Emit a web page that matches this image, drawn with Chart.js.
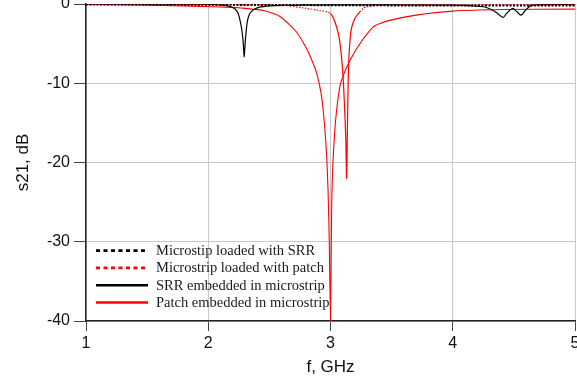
<!DOCTYPE html>
<html>
<head>
<meta charset="utf-8">
<script src="https://cdn.jsdelivr.net/npm/chart.js@4/dist/chart.umd.min.js"></script>
<style>
  html, body { margin: 0; padding: 0; background: #fff; }
  #wrap { width: 577px; height: 381px; }
</style>
</head>
<body>
<div id="wrap"><canvas id="c" width="577" height="381"></canvas></div>
<script>
// ---- data ----
const seriesNames = [
  "Microstip loaded with SRR",
  "Microstrip loaded with patch",
  "SRR embedded in microstrip",
  "Patch embedded in microstrip"
];
const xTicks = [1, 2, 3, 4, 5];
const yTicks = [0, -10, -20, -30, -40];

// Microstip loaded with SRR (dotted black)
const srrLoadedF  = [1, 2, 3, 4, 5];
const srrLoadedDb = [-0.05, -0.1, -0.15, -0.2, -0.2];

// Microstrip loaded with patch (dotted red)
const patchLoadedF  = [1, 2, 2.59, 2.8, 2.9, 3.0, 3.05, 3.077, 3.1, 3.115, 3.125, 3.132, 3.138, 3.145, 3.153, 3.17, 3.2, 3.24, 3.27, 3.3, 3.4, 4, 5];
const patchLoadedDb = [-0.05, -0.08, -0.13, -0.55, -0.8, -1.2, -2.9, -4.9, -8.5, -13, -17, -22, -16, -9.5, -6, -3.2, -1.8, -1.0, -0.5, -0.35, -0.15, -0.1, -0.1];

// SRR embedded in microstrip (solid black)
const srrEmbF  = [1, 2.0, 2.15, 2.2, 2.226, 2.245, 2.259, 2.272, 2.284, 2.29, 2.294, 2.298, 2.304, 2.313, 2.322, 2.34, 2.368, 2.42, 2.55, 3.0, 4.0, 4.25, 4.3, 4.36, 4.41, 4.44, 4.49, 4.52, 4.56, 4.6, 4.65, 5];
const srrEmbDb = [0, -0.05, -0.2, -0.45, -0.75, -1.2, -2.0, -3.0, -4.5, -5.8, -6.7, -5.8, -4.5, -3.0, -2.0, -1.2, -0.75, -0.4, -0.2, -0.1, -0.15, -0.35, -0.6, -1.1, -1.7, -1.2, -0.55, -0.9, -1.4, -0.7, -0.15, -0.05];

// Patch embedded in microstrip (solid red)
const patchEmbF  = [1, 1.5, 1.93, 2.14, 2.3, 2.46, 2.59, 2.72, 2.8, 2.85, 2.886, 2.92, 2.94, 2.96, 2.97, 2.98, 2.99, 3.0, 3.01, 3.02, 3.035, 3.05, 3.077, 3.1, 3.16, 3.25, 3.35, 3.4, 3.5, 3.7, 4.0, 4.4, 5];
const patchEmbDb = [-0.05, -0.15, -0.3, -0.4, -0.55, -0.85, -1.6, -3.5, -5.5, -7.2, -8.7, -11, -13.4, -17, -19.7, -23.5, -30, -40, -25, -20, -16, -13.4, -10.4, -9.2, -7.1, -4.8, -2.9, -2.5, -2.0, -1.4, -0.9, -0.7, -0.65];

function pts(xs, ys) { return xs.map((x, i) => ({ x: x, y: ys[i] })); }

const nearZero = ctx => (ctx.p0.parsed.y > -1.5 && ctx.p1.parsed.y > -1.5) ? [1.5, 1.5] : undefined;

const legendStyles = [
  { color: '#000', dash: [4, 3.5], width: 2.8 },
  { color: '#ff0000', dash: [4, 3.5], width: 2.8 },
  { color: '#000', dash: [], width: 2.4 },
  { color: '#ff0000', dash: [], width: 2.4 }
];

const legendPlugin = {
  id: 'customLegend',
  afterDraw(chart) {
    const ctx = chart.ctx;
    ctx.save();
    const rowsY = [250.7, 267.9, 285.2, 302.5];
    ctx.font = '14.5px "Liberation Serif", "Times New Roman", serif';
    ctx.textBaseline = 'middle';
    ctx.textAlign = 'left';
    seriesNames.forEach((name, i) => {
      const s = legendStyles[i];
      ctx.beginPath();
      ctx.setLineDash(s.dash);
      ctx.lineWidth = s.width;
      ctx.strokeStyle = s.color;
      ctx.moveTo(96, rowsY[i]);
      ctx.lineTo(148, rowsY[i]);
      ctx.stroke();
      ctx.setLineDash([]);
      ctx.fillStyle = '#1a1a1a';
      ctx.fillText(name, 156, rowsY[i] + 0.5);
    });
    ctx.restore();
  }
};

const titleFont = { family: 'Liberation Sans, Arial, sans-serif', size: 17 };
const tickFont = { family: 'Liberation Sans, Arial, sans-serif', size: 16 };

new Chart(document.getElementById('c'), {
  type: 'line',
  data: {
    datasets: [
      { label: seriesNames[0], data: pts(srrLoadedF, srrLoadedDb), borderColor: '#000', borderWidth: 2, borderDash: [2, 1.5], pointRadius: 0, tension: 0 },
      { label: seriesNames[1], data: pts(patchLoadedF, patchLoadedDb), borderColor: '#ff0000', borderWidth: 1.2, pointRadius: 0, tension: 0.3, segment: { borderDash: nearZero } },
      { label: seriesNames[2], data: pts(srrEmbF, srrEmbDb), borderColor: '#000', borderWidth: 1.2, pointRadius: 0, tension: 0.3 },
      { label: seriesNames[3], data: pts(patchEmbF, patchEmbDb), borderColor: '#ff0000', borderWidth: 1.1, pointRadius: 0, tension: 0.2 }
    ]
  },
  options: {
    responsive: false,
    animation: false,
    devicePixelRatio: 1,
    events: [],
    layout: { padding: { top: 4, right: 2, left: 0, bottom: 0 } },
    plugins: { legend: { display: false }, tooltip: { enabled: false } },
    scales: {
      x: {
        type: 'linear',
        min: 1, max: 5,
        afterBuildTicks: s => { s.ticks = xTicks.map(v => ({ value: v })); },
        afterFit: s => { s.height = 60; s.paddingLeft = 0; s.paddingRight = 0; },
        ticks: { font: tickFont, color: '#111', padding: 3, maxRotation: 0 },
        grid: { color: '#c8c8c8', lineWidth: 1, tickLength: 10, tickColor: '#444' },
        border: { color: '#222', width: 1.5 },
        title: { display: true, text: 'f, GHz', font: titleFont, color: '#111', padding: { top: 0, bottom: 3 } }
      },
      y: {
        type: 'linear',
        min: -40, max: 0,
        afterBuildTicks: s => { s.ticks = yTicks.map(v => ({ value: v })); },
        afterFit: s => { s.width = 86; s.paddingTop = 0; s.paddingBottom = 0; },
        ticks: { font: tickFont, color: '#111', padding: 4 },
        grid: { color: '#c8c8c8', lineWidth: 1, tickLength: 12, tickColor: '#444' },
        border: { color: '#222', width: 1.5 },
        title: { display: true, text: 's21, dB', font: titleFont, color: '#111', padding: { top: 13, bottom: 0 } }
      }
    }
  },
  plugins: [legendPlugin]
});
</script>
</body>
</html>
